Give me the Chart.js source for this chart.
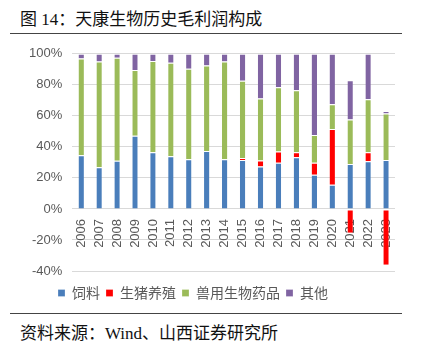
<!DOCTYPE html>
<html>
<head>
<meta charset="utf-8">
<script src="https://cdn.jsdelivr.net/npm/chart.js@4/dist/chart.umd.min.js"></script>
<style>
  body { margin: 0; background: #fff; width: 422px; height: 350px; overflow: hidden; position: relative; }
  .title { position: absolute; left: 20px; top: 5px; font-size: 17px; color: #111;
           font-family: "Liberation Serif", "Noto Sans CJK SC", serif; }
  .rule { position: absolute; left: 10px; width: 392px; height: 1px; background: #444; }
  .source { position: absolute; left: 20px; top: 319px; font-size: 17px; color: #111;
            font-family: "Liberation Serif", "Noto Sans CJK SC", serif; }
  #wrap { position: absolute; left: 0; top: 36px; width: 410px; height: 275px; }
</style>
</head>
<body>
<div class="title">图 14：天康生物历史毛利润构成</div>
<div class="rule" style="top:33px"></div>
<div id="wrap"><canvas id="chart"></canvas></div>
<div class="rule" style="top:313px"></div>
<div class="source">资料来源：Wind、山西证券研究所</div>
<script>
// years and margin shares (%)
const years = ['2006', '2007', '2008', '2009', '2010', '2011', '2012', '2013', '2014',
  '2015', '2016', '2017', '2018', '2019', '2020', '2021', '2022', '2023'];
const feed = [34.6, 26.9, 31, 47.2, 36.5, 34, 32, 37.4, 32, 31.6, 27.4, 29.7, 33.3, 22, 15.6, 29, 30.8, 31.6];
const pig = [0, 0, 0, 0, 0, 0, 0, 0, 0, 1.3, 3.8, 7.3, 3.2, 7.7, 35.9, -15.3, 5.7, -36];
const vet = [62.4, 68.2, 66.4, 42.3, 58.8, 60.2, 58.4, 55.1, 63.1, 49.8, 40, 41.4, 40, 17.9, 16, 28.7, 34.2, 29.9];
const other = [3, 4.9, 2.6, 10.5, 4.7, 5.8, 9.6, 7.5, 4.9, 17.3, 28.8, 21.6, 23.5, 52.4, 32.5, 25.2, 29.3, 1.7];
const yTicks = [-40, -20, 0, 20, 40, 60, 80, 100];

const grey = '#595959';
const fontFamily = '"Noto Sans CJK SC", "Liberation Sans", sans-serif';

function series(label, data, color) {
  return {
    label: label,
    data: data,
    backgroundColor: color,
    borderColor: '#ffffff',
    borderWidth: { top: 1 },
    borderSkipped: false,
    barPercentage: 0.3,
    categoryPercentage: 1
  };
}

// legend in the picture sits a bit left of centre and lower than the layout puts it
const legendShift = {
  id: 'legendShift',
  afterLayout(chart) {
    const lg = chart.legend;
    lg.left -= 14;
    lg.right -= 14;
    lg.top += 9;
    lg.bottom += 9;
  }
};

const ctx = document.getElementById('chart').getContext('2d');
const chart = new Chart(ctx, {
  type: 'bar',
  data: {
    labels: years,
    datasets: [
      series('饲料', feed, '#4a7ebb'),
      series('生猪养殖', pig, '#ff0000'),
      series('兽用生物药品', vet, '#9bbb59'),
      series('其他', other, '#8064a2')
    ]
  },
  plugins: [legendShift],
  options: {
    responsive: true,
    maintainAspectRatio: false,
    animation: false,
    layout: { padding: { left: 19, top: 5, right: 15, bottom: 10 } },
    plugins: {
      tooltip: { enabled: false },
      legend: {
        position: 'bottom',
        labels: {
          color: grey,
          font: { family: fontFamily, size: 14 },
          boxWidth: 7,
          boxHeight: 7,
          padding: 6
        }
      }
    },
    scales: {
      x: {
        stacked: true,
        position: { y: 0 },
        grid: { display: false },
        border: { display: false },
        ticks: {
          color: grey,
          font: { family: '"Liberation Sans", Arial, sans-serif', size: 13 },
          minRotation: 90,
          maxRotation: 90,
          autoSkip: false,
          padding: 2
        }
      },
      y: {
        stacked: true,
        min: -40,
        max: 100,
        afterBuildTicks: (axis) => { axis.ticks = yTicks.map(v => ({ value: v })); },
        grid: { color: '#d9d9d9', drawTicks: false },
        border: { display: false },
        ticks: {
          color: grey,
          font: { family: '"Liberation Sans", Arial, sans-serif', size: 13 },
          padding: 10,
          callback: (v) => v + '%'
        }
      }
    }
  }
});
</script>
</body>
</html>
